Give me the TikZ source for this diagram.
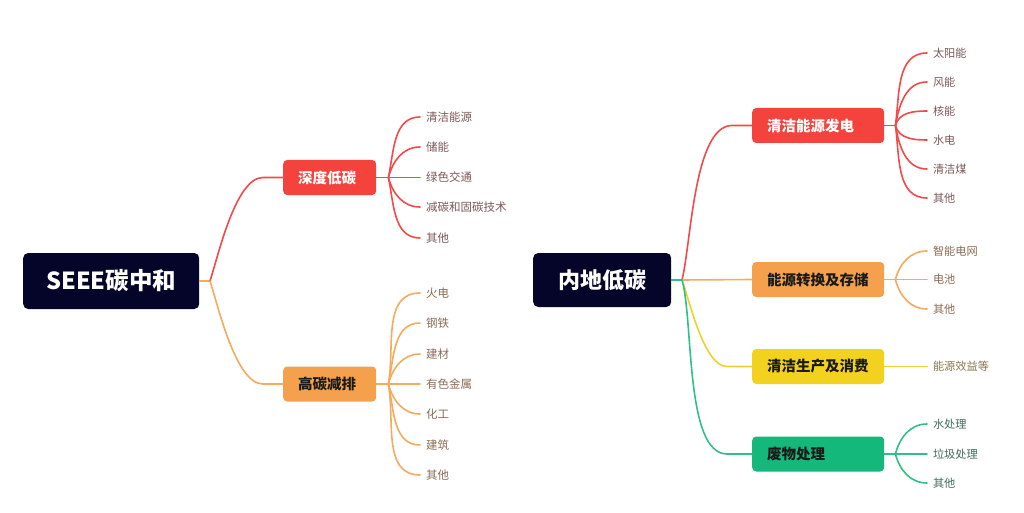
\documentclass[tikz,border=0pt]{standalone}
\usepackage{fontspec}
\setmainfont{Noto Sans CJK SC}
\usetikzlibrary{calc}
\definecolor{navy}{HTML}{05052A}
\definecolor{cR}{HTML}{F4433C}
\definecolor{cO}{HTML}{F5A04C}
\definecolor{cY}{HTML}{F2D11F}
\definecolor{cG}{HTML}{14B87B}
\definecolor{lR}{HTML}{F2494A}
\definecolor{lO}{HTML}{F5AA5C}
\definecolor{lY}{HTML}{EFCF2E}
\definecolor{lG}{HTML}{2FC08A}
\definecolor{tR}{HTML}{7B5858}
\definecolor{tO}{HTML}{8A6A55}
\definecolor{tY}{HTML}{857850}
\definecolor{tG}{HTML}{3F6A5A}
\definecolor{tK}{HTML}{1A1A1A}
\begin{document}
\begin{tikzpicture}[x=1pt,y=-1pt,
  rootbox/.style={fill=navy, text=white, rounded corners=5pt, anchor=west, inner sep=0pt,
    font=\bfseries\fontsize{23.5}{23.5}\selectfont, minimum height=56pt},
  topic/.style={rounded corners=4pt, anchor=west, inner xsep=15pt, inner ysep=0pt,
    minimum height=35pt, text width=#1, align=left, font=\bfseries\fontsize{14.5}{14.5}\selectfont},
  leaf/.style={anchor=west, inner sep=0pt, outer xsep=6pt, font=\fontsize{11.5}{11.5}\selectfont},
  con/.style={line width=1.6pt, draw=#1, line cap=round}
]
\useasboundingbox (0,0) rectangle (1024,513);

% ---------------- left tree ----------------
\node[rootbox, minimum width=176pt] (r1) at (23,281) {SEEE碳中和};
\node[topic=63pt, fill=cR, text=white] (t1) at (283,177.5) {深度低碳};
\node[topic=63pt, fill=cO, text=tK] (t2) at (283,384) {高碳减排};
\coordinate (bpL) at (210,281);
\draw[con=lO] (r1.east) -- (bpL);
\draw[con=lR] (bpL) to[out=72,in=180,looseness=0.6] ($(t1.west)+(-20,0)$) -- (t1.west);
\draw[con=lO] (bpL) to[out=-72,in=180,looseness=0.6] ($(t2.west)+(-20,0)$) -- (t2.west);

\coordinate (bpA) at ($(t1.east)+(12,0)$);
\draw[con=lR] (t1.east) -- (bpA);
\foreach \n/\y/\t/\o in {a1/117/清洁能源/78, a2/147/储能/75, a3/177.5/绿色交通/0, a4/207/减碳和固碳技术/-75, a5/238/其他/-78}{
  \node[leaf, text=tR] (\n) at (420,\y) {\t};
  \draw[con=lR] (bpA) to[out=\o,in=180] (\n.west);
}
\coordinate (bpB) at ($(t2.east)+(12,0)$);
\draw[con=lO] (t2.east) -- (bpB);
\foreach \n/\y/\t/\o in {b1/293/火电/80, b2/323/钢铁/78, b3/354/建材/75, b4/384/有色金属/0, b5/414/化工/-75, b6/445/建筑/-78, b7/475/其他/-80}{
  \node[leaf, text=tO] (\n) at (420,\y) {\t};
  \draw[con=lO] (bpB) to[out=\o,in=180] (\n.west);
}

% ---------------- right tree ----------------
\node[rootbox, minimum width=138pt, minimum height=54pt, font=\bfseries\fontsize{22}{22}\selectfont] (r2) at (533,280) {内地低碳};
\node[topic=102pt, fill=cR, text=white] (s1) at (752,125.5) {清洁能源发电};
\node[topic=102pt, fill=cO, text=tK] (s2) at (752,279.5) {能源转换及存储};
\node[topic=102pt, fill=cY, text=tK] (s3) at (752,366.5) {清洁生产及消费};
\node[topic=102pt, fill=cG, text=tK] (s4) at (752,454) {废物处理};
\coordinate (bpR) at (682,280);
\draw[con=lR] (bpR) to[out=76,in=180,looseness=0.6] ($(s1.west)+(-20,0)$) -- (s1.west);
\draw[con=lO] (bpR) -- (s2.west);
\draw[con=lY] (bpR) to[out=-70,in=180,looseness=0.6] ($(s3.west)+(-25,0)$) -- (s3.west);
\draw[con=lG] (bpR) to[out=-74,in=180,looseness=0.6] ($(s4.west)+(-25,0)$) -- (s4.west);
\draw[con=lG] (r2.east) -- (bpR);

\coordinate (bpC) at ($(s1.east)+(11,0)$);
\draw[con=lR] (s1.east) -- (bpC);
\foreach \n/\y/\t/\o in {c1/53/太阳能/82, c2/82/风能/80, c3/111/核能/75, c4/140/水电/-75, c5/169/清洁煤/-80, c6/198/其他/-82}{
  \node[leaf, text=tR, font=\fontsize{11.2}{11.2}\selectfont] (\n) at (927,\y) {\t};
  \draw[con=lR] (bpC) to[out=\o,in=180] (\n.west);
}
\coordinate (bpD) at ($(s2.east)+(11,0)$);
\draw[con=lO] (s2.east) -- (bpD);
\foreach \n/\y/\t/\o in {d1/251/智能电网/75, d2/279.5/电池/0, d3/309/其他/-75}{
  \node[leaf, text=tO, font=\fontsize{11.2}{11.2}\selectfont] (\n) at (927,\y) {\t};
  \draw[con=lO] (bpD) to[out=\o,in=180] (\n.west);
}
\node[leaf, text=tY, font=\fontsize{11.2}{11.2}\selectfont] (e1) at (927,366.5) {能源效益等};
\draw[con=lY] (s3.east) -- (e1.west);
\coordinate (bpF) at ($(s4.east)+(11,0)$);
\draw[con=lG] (s4.east) -- (bpF);
\foreach \n/\y/\t/\o in {f1/424/水处理/75, f2/454/垃圾处理/0, f3/483/其他/-75}{
  \node[leaf, text=tG, font=\fontsize{11.2}{11.2}\selectfont] (\n) at (927,\y) {\t};
  \draw[con=lG] (bpF) to[out=\o,in=180] (\n.west);
}
\end{tikzpicture}
\end{document}
